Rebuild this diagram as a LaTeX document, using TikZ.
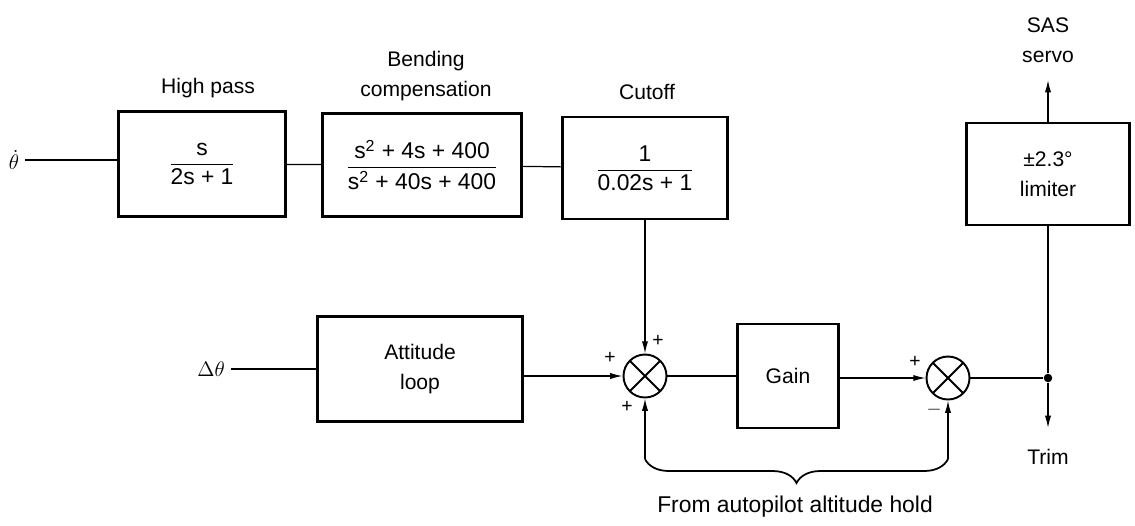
\documentclass[tikz,border=0pt]{standalone}
\usepackage{amsmath}
\usepackage{fontspec}
\setmainfont{Liberation Sans}
\usetikzlibrary{arrows.meta,decorations.pathreplacing}

\begin{document}
\begin{tikzpicture}[x=0.02cm, y=-0.02cm,
  every node/.style={font=\fontsize{12}{17}\selectfont},
  block/.style={draw, line width=1.5pt, inner sep=0pt, align=center},
  frac/.style={font=\fontsize{13}{16}\selectfont},
  sumjn/.style={draw, circle, line width=1.1pt, minimum size=0.86cm, inner sep=0pt,
    path picture={\draw[line width=1.1pt] (path picture bounding box.center)
      +(45:0.5cm) -- +(225:0.5cm) +(135:0.5cm) -- +(315:0.5cm);}},
  sig/.style={line width=0.7pt},
  arr/.style={sig, -{Latex[length=7pt,width=3.5pt]}},
  sgn/.style={font=\fontsize{11}{11}\selectfont, inner sep=0pt}]
\useasboundingbox (0,0) rectangle (1135,525);

\node[font=\large] (thd) at (14,160) {$\dot{\theta}$};
\node[font=\large] (dth) at (211,369) {$\Delta\theta$};

\node[block, frac, minimum width=3.34cm, minimum height=2.1cm] (hipass) at (202,164)
  {$\dfrac{\text{s}}{\text{2s + 1}}$};
\node[block, frac, minimum width=3.98cm, minimum height=2.06cm] (bendcomp) at (422,165)
  {$\dfrac{\text{s\textsuperscript{2} + 4s + 400}}{\text{s\textsuperscript{2} + 40s + 400}}$};
\node[block, frac, minimum width=3.3cm, minimum height=2.04cm] (cutoff) at (645,168)
  {$\dfrac{\text{1}}{\text{0.02s + 1}}$};
\node[block, minimum width=3.26cm, minimum height=2.04cm] (limiter) at (1048,174)
  {±2.3°\\limiter};
\node[block, minimum width=4.1cm, minimum height=2.1cm] (attloop) at (420,369)
  {Attitude\\loop};
\node[block, minimum width=2.02cm, minimum height=2.08cm] (gain) at (788,376) {Gain};

\node (hplbl) at (208,88) {High pass};
\node[align=center] (bclbl) at (426,76) {Bending\\compensation};
\node (colbl) at (647,92) {Cutoff};
\node[align=center] (sas) at (1048,40) {SAS\\servo};
\node (trim) at (1048,457) {Trim};
\node[font=\fontsize{13}{17}\selectfont] (aphold) at (795,507) {From autopilot altitude hold};

\node[sumjn] (sumA) at (645,376) {};
\node[sumjn] (sumB) at (948,378) {};
\node[circle, fill, inner sep=0pt, minimum size=0.17cm] (junc) at (1048,378) {};

\node[sgn] (pA1) at (658,341) {+};
\node[sgn] (pA2) at (610,358) {+};
\node[sgn] (pA3) at (627,407) {+};
\node[sgn] (pB1) at (915,362) {+};
\node[sgn] (pB2) at (934,410) {$-$};

\coordinate (sasin) at (1048,80);
\coordinate (trimout) at (1048,428);
\coordinate (brA) at (645,459);
\coordinate (brB) at (948,459);

\draw[sig] (thd) -- (thd -| hipass.west);
\draw[sig] (hipass) -- (bendcomp);
\draw[sig] (bendcomp) -- (cutoff);
\draw[arr] (cutoff) -- (sumA);
\draw[sig] (dth) -- (attloop);
\draw[arr] (attloop.east |- sumA) -- (sumA);
\draw[arr] (brA) -- (sumA);
\draw[sig] (sumA) -- (gain);
\draw[arr] (gain.east |- sumB) -- (sumB);
\draw[arr] (brB) -- (sumB);
\draw[sig] (sumB) -- (junc);
\draw[sig] (junc) -- (limiter);
\draw[arr] (limiter) -- (sasin);
\draw[arr] (junc) -- (trimout);
\draw[sig, line width=1pt, decorate, decoration={brace, amplitude=0.48cm}] (brB) -- (brA);
\end{tikzpicture}
\end{document}
